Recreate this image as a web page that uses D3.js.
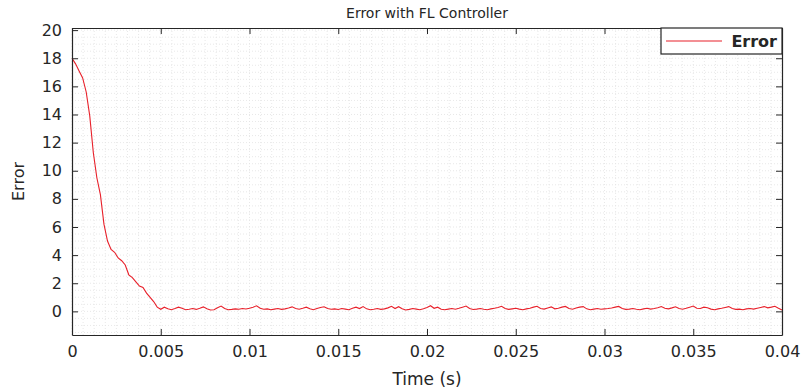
<!DOCTYPE html>
<html>
<head>
<meta charset="utf-8">
<script src="https://cdn.jsdelivr.net/npm/d3@7"></script>
<style>
  body { margin: 0; background: #fff; }
  svg { font-family: "DejaVu Sans", "Liberation Sans", Arial, sans-serif; }
</style>
</head>
<body>
<svg id="chart" width="802" height="392"></svg>
<script>
// sample spacing of the logged error (s)
var timeStep = 0.0002;

// error values, one per sample
var errorVals = [
  18.0, 17.6, 17.1, 16.6, 15.6, 13.9, 11.3, 9.5, 8.3, 6.2,
  5.0, 4.4, 4.2, 3.8, 3.6, 3.3, 2.6, 2.4, 2.1, 1.8,
  1.7, 1.3, 1.0, 0.7, 0.3, 0.15, 0.3, 0.18, 0.12, 0.2,
  0.3, 0.22, 0.12, 0.15, 0.2, 0.14, 0.22, 0.32, 0.18, 0.1,
  0.12, 0.25, 0.38, 0.2, 0.12, 0.14, 0.18, 0.15, 0.2, 0.17,
  0.22, 0.3, 0.4, 0.22, 0.15, 0.18, 0.12, 0.16, 0.2, 0.14,
  0.18, 0.24, 0.32, 0.2, 0.15, 0.22, 0.3, 0.18, 0.12, 0.2,
  0.28, 0.33, 0.2, 0.15, 0.18, 0.13, 0.2, 0.16, 0.12, 0.22,
  0.3, 0.2, 0.34, 0.18, 0.12, 0.15, 0.2, 0.14, 0.18, 0.25,
  0.36, 0.2, 0.33, 0.18, 0.1, 0.14, 0.2, 0.16, 0.12, 0.18,
  0.28, 0.4, 0.22, 0.3, 0.15, 0.12, 0.16, 0.2, 0.15, 0.22,
  0.3, 0.38, 0.2, 0.13, 0.16, 0.2, 0.15, 0.12, 0.18, 0.22,
  0.28, 0.36, 0.2, 0.14, 0.18, 0.22, 0.16, 0.12, 0.18, 0.22,
  0.3, 0.36, 0.2, 0.16, 0.24, 0.32, 0.18, 0.22, 0.3, 0.35,
  0.2, 0.15, 0.24, 0.3, 0.34, 0.18, 0.12, 0.16, 0.2, 0.15,
  0.18, 0.2, 0.24, 0.3, 0.35, 0.2, 0.14, 0.16, 0.2, 0.15,
  0.12, 0.18, 0.22, 0.16, 0.2, 0.26, 0.34, 0.22, 0.18, 0.25,
  0.33, 0.2, 0.15, 0.22, 0.3, 0.38, 0.22, 0.2, 0.3, 0.26,
  0.16, 0.12, 0.18, 0.22, 0.28, 0.34, 0.2, 0.14, 0.16, 0.12,
  0.18, 0.2, 0.16, 0.22, 0.28, 0.34, 0.25, 0.3, 0.36, 0.22,
  0.1
];

var xTicks = [0, 0.005, 0.01, 0.015, 0.02, 0.025, 0.03, 0.035, 0.04];
var xTickLabels = ["0", "0.005", "0.01", "0.015", "0.02", "0.025", "0.03", "0.035", "0.04"];
var yTicks = [0, 2, 4, 6, 8, 10, 12, 14, 16, 18, 20];

var titleText = "Error with FL Controller";
var xLabel = "Time (s)";
var yLabel = "Error";
var seriesName = "Error";

var svg = d3.select("#chart");
var margin = {left: 72, right: 20, top: 28, bottom: 57};
var W = 802, H = 392;
var axisColor = "#262626";

var x = d3.scaleLinear().domain([0, 0.04]).range([margin.left, W - margin.right]);
var y = d3.scaleLinear().domain([-1.68, 20.15]).range([H - margin.bottom, margin.top]);

// minor grid
var xMinor = d3.range(0, 0.04 + 1e-9, 0.000625);
var yMinor = d3.range(-1.5, 20.01, 0.5);
var grid = svg.append("g");
grid.selectAll("line.vx").data(xMinor).enter().append("line")
    .attr("x1", function(d){ return x(d); }).attr("x2", function(d){ return x(d); })
    .attr("y1", y.range()[0]).attr("y2", y.range()[1])
    .attr("stroke", "#e2e2e2").attr("stroke-width", 0.8).attr("stroke-dasharray", "1,2");
grid.selectAll("line.hy").data(yMinor).enter().append("line")
    .attr("y1", function(d){ return y(d); }).attr("y2", function(d){ return y(d); })
    .attr("x1", x.range()[0]).attr("x2", x.range()[1])
    .attr("stroke", "#e2e2e2").attr("stroke-width", 0.8).attr("stroke-dasharray", "1,2");

// the error trace
var line = d3.line()
    .x(function(d, i){ return x(i * timeStep); })
    .y(function(d){ return y(d); });
svg.append("path")
    .datum(errorVals)
    .attr("d", line)
    .attr("fill", "none")
    .attr("stroke", "#e8202a")
    .attr("stroke-width", 1.1);

// axes, ticks pointing inward on all four sides
function styleAxis(g){
    g.selectAll(".domain").attr("stroke", axisColor).attr("stroke-width", 1.2);
    g.selectAll(".tick line").attr("stroke", axisColor).attr("stroke-width", 1);
    g.selectAll(".tick text").attr("fill", axisColor)
        .style("font-family", "'DejaVu Sans', sans-serif").style("font-size", "16px");
}
var bottomAxis = svg.append("g")
    .attr("transform", "translate(0," + y.range()[0] + ")")
    .call(d3.axisBottom(x).tickValues(xTicks).tickSize(-6).tickSizeOuter(0)
        .tickPadding(11).tickFormat(function(d, i){ return xTickLabels[i]; }));
styleAxis(bottomAxis);
var topAxis = svg.append("g")
    .attr("transform", "translate(0," + y.range()[1] + ")")
    .call(d3.axisTop(x).tickValues(xTicks).tickSize(-6).tickSizeOuter(0).tickFormat(""));
styleAxis(topAxis);
var leftAxis = svg.append("g")
    .attr("transform", "translate(" + x.range()[0] + ",0)")
    .call(d3.axisLeft(y).tickValues(yTicks).tickSize(-6).tickSizeOuter(0).tickPadding(10));
styleAxis(leftAxis);
var rightAxis = svg.append("g")
    .attr("transform", "translate(" + x.range()[1] + ",0)")
    .call(d3.axisRight(y).tickValues(yTicks).tickSize(-6).tickSizeOuter(0).tickFormat(""));
styleAxis(rightAxis);

// labels
svg.append("text").attr("x", (x.range()[0] + x.range()[1]) / 2).attr("y", 18)
    .attr("text-anchor", "middle").attr("fill", axisColor).style("font-size", "14px")
    .text(titleText);
svg.append("text").attr("x", (x.range()[0] + x.range()[1]) / 2).attr("y", 385)
    .attr("text-anchor", "middle").attr("fill", axisColor).style("font-size", "17px")
    .text(xLabel);
svg.append("text").attr("transform", "translate(24," + ((y.range()[0] + y.range()[1]) / 2) + ") rotate(-90)")
    .attr("text-anchor", "middle").attr("fill", axisColor).style("font-size", "16px")
    .text(yLabel);

// legend box in the top right corner
var lg = svg.append("g").attr("transform", "translate(" + (x.range()[1] - 121) + "," + y.range()[1] + ")");
lg.append("rect").attr("width", 121).attr("height", 26)
    .attr("fill", "#fff").attr("stroke", axisColor).attr("stroke-width", 1.2);
lg.append("line").attr("x1", 5).attr("x2", 61).attr("y1", 13).attr("y2", 13)
    .attr("stroke", "#e8202a").attr("stroke-width", 1.1);
lg.append("text").attr("x", 116).attr("y", 18.5).attr("text-anchor", "end")
    .attr("fill", axisColor).style("font-size", "16px").style("font-weight", "bold")
    .text(seriesName);
</script>
</body>
</html>
